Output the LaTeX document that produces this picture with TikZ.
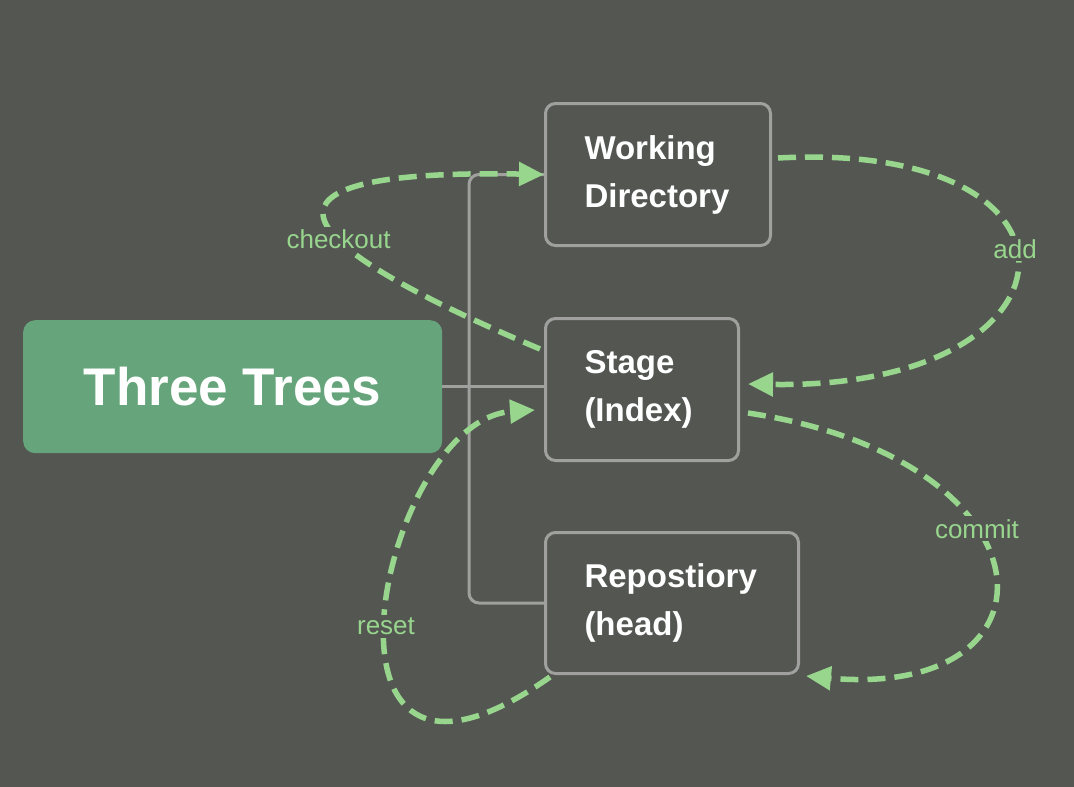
\documentclass[tikz,border=0pt]{standalone}
\usepackage{fontspec}
\setmainfont{Liberation Sans}
\usetikzlibrary{arrows.meta}
\definecolor{bg}{RGB}{84,86,82}
\definecolor{leaf}{RGB}{102,165,123}
\definecolor{edge}{RGB}{160,161,158}
\definecolor{flow}{RGB}{152,214,142}
\begin{document}
\begin{tikzpicture}[x=1pt,y=-1pt,
 tree/.style={draw=edge, line width=3pt, rounded corners=10pt, minimum height=142pt, inner xsep=39pt, inner ysep=0pt, align=left, font=\fontsize{33}{48}\selectfont\bfseries, text=white, anchor=north west},
 link/.style={draw=edge, line width=3pt},
 flowarrow/.style={draw=flow, line width=5.5pt, dash pattern=on 18pt off 9pt, -{Triangle[length=25pt,width=23pt]}},
 flowlabel/.style={text=flow, fill=bg, font=\fontsize{26}{30}\selectfont, inner sep=3pt}]
\useasboundingbox (0,0) rectangle (1074,787);
\fill[bg] (0,0) rectangle (1074,787);
\node[fill=leaf, rounded corners=12pt, minimum width=419pt, minimum height=133pt, text=white, font=\fontsize{53}{60}\selectfont\bfseries, anchor=north west, inner sep=0pt] (root) at (23,320) {Three Trees};
\node[tree, text width=147pt] (wd) at (544,102) {Working\\Directory};
\node[tree, text width=115pt] (st) at (544,317) {Stage\\(Index)};
\node[tree, text width=175pt, minimum height=141pt] (repo) at (544,531) {Repostiory\\(head)};
\coordinate (spine) at (469,387);
\draw[link] (root.east) -- (root.east -| st.west);
\draw[link, rounded corners=10pt] (wd.west) -| (spine) |- (repo.west);
\coordinate (cos) at (540,349);
\coordinate (ads) at (778,158);
\coordinate (adt) at (748,384);
\coordinate (cms) at (748,413);
\coordinate (cmt) at (806,676);
\coordinate (rss) at (550,677);
\coordinate (rst) at (535,410);
\draw[flowarrow] (cos) .. controls (210,210) and (300,170) .. node[flowlabel, pos=0.34] {checkout} (wd.west);
\draw[flowarrow] (ads) .. controls (1110,140) and (1090,390) .. node[flowlabel, pos=0.45] {add} (adt);
\draw[flowarrow] (cms) .. controls (1060,460) and (1070,700) .. node[flowlabel, pos=0.39] {commit} (cmt);
\draw[flowarrow] (rss) .. controls (290,860) and (380,420) .. node[flowlabel, pos=0.48] {reset} (rst);
\end{tikzpicture}
\end{document}
